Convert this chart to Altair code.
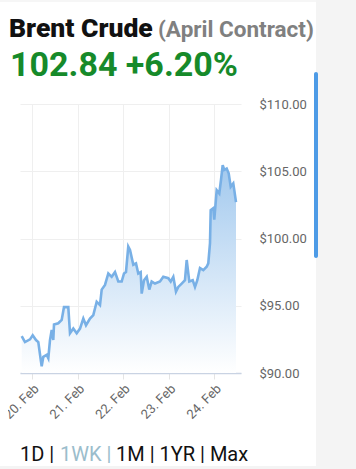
import altair as alt
import pandas as pd

times = [
    "2022-02-19T18:35", "2022-02-19T20:19", "2022-02-19T22:57", "2022-02-20T00:22",
    "2022-02-20T02:06", "2022-02-20T03:19", "2022-02-20T04:35", "2022-02-20T05:06",
    "2022-02-20T05:57", "2022-02-20T07:44", "2022-02-20T08:35", "2022-02-20T09:28",
    "2022-02-20T10:22", "2022-02-20T11:12", "2022-02-20T11:35", "2022-02-20T13:50",
    "2022-02-20T15:38", "2022-02-20T16:50", "2022-02-20T19:06", "2022-02-20T20:00",
    "2022-02-20T21:44", "2022-02-20T23:31", "2022-02-21T01:16", "2022-02-21T03:00",
    "2022-02-21T04:25", "2022-02-21T06:31", "2022-02-21T08:16", "2022-02-21T10:03",
    "2022-02-21T11:47", "2022-02-21T12:41", "2022-02-21T14:25", "2022-02-21T16:10",
    "2022-02-21T17:56", "2022-02-21T19:41", "2022-02-21T21:25", "2022-02-21T23:12",
    "2022-02-22T00:25", "2022-02-22T01:28", "2022-02-22T02:40", "2022-02-22T03:35",
    "2022-02-22T05:19", "2022-02-22T06:44", "2022-02-22T07:56", "2022-02-22T09:12",
    "2022-02-22T09:44", "2022-02-22T10:57", "2022-02-22T12:22", "2022-02-22T13:44",
    "2022-02-22T14:59", "2022-02-22T16:44", "2022-02-22T19:22", "2022-02-22T21:06",
    "2022-02-22T23:44", "2022-02-23T01:00", "2022-02-23T02:22", "2022-02-23T03:47",
    "2022-02-23T05:00", "2022-02-23T06:47", "2022-02-23T08:31", "2022-02-23T09:25",
    "2022-02-23T10:47", "2022-02-23T12:35", "2022-02-23T13:47", "2022-02-23T15:00",
    "2022-02-23T16:25", "2022-02-23T18:10", "2022-02-23T19:56", "2022-02-23T20:47",
    "2022-02-23T21:41", "2022-02-23T22:03", "2022-02-23T23:25", "2022-02-23T23:56",
    "2022-02-24T01:12", "2022-02-24T02:35", "2022-02-24T03:28", "2022-02-24T04:22",
    "2022-02-24T05:12", "2022-02-24T06:28", "2022-02-24T07:31", "2022-02-24T08:35",
    "2022-02-24T09:56", "2022-02-24T10:28", "2022-02-24T11:22",
]
prices = [
    92.75, 92.30, 92.50, 92.80,
    92.45, 92.30, 91.00, 90.50,
    91.20, 91.35, 91.10, 92.45,
    93.20, 92.45, 93.60, 93.70,
    93.95, 94.90, 94.90, 92.95,
    93.30, 92.95, 93.30, 94.05,
    93.55, 94.05, 94.30, 95.30,
    95.05, 96.20, 96.55, 97.40,
    97.15, 97.50, 96.80, 96.80,
    97.40, 97.50, 99.40, 99.15,
    98.05, 98.15, 97.40, 97.50,
    95.90, 96.90, 97.15, 96.20,
    96.80, 96.65, 96.80, 97.15,
    97.05, 96.80, 97.15, 96.05,
    96.40, 96.65, 96.90, 98.40,
    96.80, 96.90, 96.40, 96.90,
    97.80, 97.65, 97.90, 98.15,
    99.65, 102.10, 102.25, 101.40,
    103.60, 103.35, 104.35, 105.45,
    105.10, 105.20, 104.85, 103.85,
    104.10, 103.60, 102.70,
]
y_ticks = [90, 95, 100, 105, 110]
title_main = "Brent Crude"
title_sub = "(April Contract)"
headline = "102.84 +6.20%"
range_parts = ["1D |", "1WK |", "1M | 1YR | Max"]

df = pd.DataFrame({"t": times, "price": prices})

PL, PT, W, H = 20, 104, 221, 269
TOTAL_W, TOTAL_H = 356, 469

x_enc = alt.X(
    "t:T",
    scale=alt.Scale(domain=[alt.DateTime(year=2022, month=2, date=19, hours=17, minutes=41),
                            alt.DateTime(year=2022, month=2, date=24, hours=14)]),
    axis=alt.Axis(
        values=[alt.DateTime(year=2022, month=2, date=d) for d in range(20, 25)],
        format="%d. %b", labelAngle=-45, labelFontSize=13, labelColor="#666666",
        labelFont="Roboto", title=None, grid=True, gridColor="#efefef",
        domainColor="#c9d3e3", domainWidth=1.5, tickColor="#e4e4e4", tickSize=6,
        labelPadding=3, labelBound=False, labelFlush=False, labelOverlap=False,
    ),
)
y_enc = alt.Y(
    "price:Q",
    scale=alt.Scale(domain=[90, 110], zero=False),
    axis=alt.Axis(
        orient="right", values=y_ticks, format="$.2f", labelFontSize=13,
        labelColor="#666666", labelFont="Roboto", labelPadding=18, title=None,
        ticks=False, domain=False, grid=True, gridColor="#efefef",
    ),
)

base = alt.Chart(df)
area = base.mark_area(
    color=alt.Gradient(
        gradient="linear", x1=0, y1=0, x2=0, y2=1,
        stops=[alt.GradientStop(color="#a2c9ee", offset=0),
               alt.GradientStop(color="#ffffff", offset=1)],
    )
).encode(x=x_enc, y=y_enc, y2=alt.datum(90))
line = base.mark_line(color="#78b0e6", strokeWidth=2.6).encode(x="t:T", y="price:Q")

one = alt.Data(values=[{"a": 1}])

def txt(s, x, y, size, color, weight="normal"):
    return alt.Chart(one).mark_text(
        text=s, align="left", baseline="alphabetic", font="Roboto",
        fontSize=size, fontWeight=weight, color=color,
    ).encode(x=alt.value(x - PL), y=alt.value(y - PT))

def rect(x1, y1, x2, y2, color, r=0):
    return alt.Chart(one).mark_rect(color=color, cornerRadius=r).encode(
        x=alt.value(x1 - PL), x2=alt.value(x2 - PL),
        y=alt.value(y1 - PT), y2=alt.value(y2 - PT))

layers = [
    area, line,
    rect(0, 376, 8, 425, "white"),
    rect(316, 0, 356, 469, "#f4f4f4"),
    rect(0, 0, 316, 2, "#f6f6f6"),
    rect(0, 466, 316, 469, "#f4f4f4"),
    rect(314, 72, 318, 258, "#4d9be6", 2),
    txt(title_main, 9, 37, 26.5, "#111111", 900),
    txt(title_sub, 158, 37, 22.5, "#808080", "bold"),
    txt(headline, 10, 76, 34, "#168a2a", "bold"),
    txt(range_parts[0], 20, 461, 20, "#111111"),
    txt(range_parts[1], 60, 461, 20, "#9bbdcc"),
    txt(range_parts[2], 116, 461, 20, "#111111"),
]

chart = alt.layer(*layers).properties(
    width=W, height=H,
    autosize=alt.AutoSizeParams(type="none"),
    padding={"left": PL, "top": PT, "right": TOTAL_W - PL - W, "bottom": TOTAL_H - PT - H},
    background="white",
).configure_view(stroke=None)

chart.save("out.html", embed_options={"renderer": "svg", "actions": False})
